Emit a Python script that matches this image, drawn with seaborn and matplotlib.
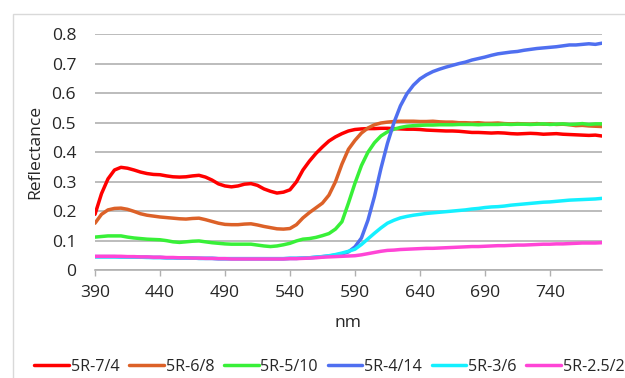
import pandas as pd
import matplotlib.pyplot as plt
import seaborn as sns
from matplotlib.patches import Rectangle


WAVELENGTHS = list(range(390, 785, 5))

SERIES_NAMES = ["5R-7/4", "5R-6/8", "5R-5/10", "5R-4/14", "5R-3/6", "5R-2.5/2"]
COLORS = ["#ff0000", "#dc6128", "#38f038", "#4f6ff0", "#14f0ff", "#ff45d6"]

R_7_4 = [
    0.190, 0.260, 0.310, 0.340, 0.349, 0.346, 0.340, 0.333, 0.328, 0.325,
    0.324, 0.320, 0.317, 0.316, 0.317, 0.320, 0.322, 0.316, 0.306, 0.293,
    0.286, 0.283, 0.286, 0.292, 0.294, 0.288, 0.276, 0.268, 0.262, 0.265,
    0.273, 0.300, 0.340, 0.370, 0.396, 0.418, 0.438, 0.452, 0.463, 0.472,
    0.477, 0.479, 0.480, 0.480, 0.481, 0.481, 0.480, 0.479, 0.478, 0.478,
    0.477, 0.475, 0.474, 0.473, 0.472, 0.472, 0.471, 0.469, 0.467, 0.467,
    0.466, 0.465, 0.466, 0.465, 0.463, 0.462, 0.463, 0.464, 0.463, 0.461,
    0.462, 0.463, 0.461, 0.460, 0.459, 0.458, 0.457, 0.458, 0.455,
]

R_6_8 = [
    0.160, 0.190, 0.205, 0.210, 0.211, 0.207, 0.200, 0.192, 0.187, 0.184,
    0.181, 0.179, 0.177, 0.175, 0.174, 0.176, 0.177, 0.172, 0.166, 0.160,
    0.156, 0.155, 0.155, 0.157, 0.158, 0.154, 0.149, 0.145, 0.141, 0.140,
    0.142, 0.155, 0.178, 0.196, 0.212, 0.228, 0.255, 0.300, 0.360, 0.410,
    0.440, 0.465, 0.482, 0.493, 0.499, 0.502, 0.504, 0.505, 0.505, 0.505,
    0.504, 0.504, 0.505, 0.503, 0.502, 0.502, 0.500, 0.500, 0.499, 0.500,
    0.498, 0.498, 0.499, 0.497, 0.496, 0.497, 0.496, 0.495, 0.497, 0.495,
    0.496, 0.494, 0.495, 0.493, 0.490, 0.491, 0.489, 0.488, 0.487,
]

R_5_10 = [
    0.113, 0.115, 0.117, 0.117, 0.117, 0.113, 0.110, 0.108, 0.106, 0.105,
    0.104, 0.101, 0.097, 0.095, 0.097, 0.099, 0.100, 0.097, 0.094, 0.092,
    0.090, 0.089, 0.089, 0.089, 0.089, 0.086, 0.083, 0.081, 0.083, 0.087,
    0.092, 0.100, 0.106, 0.108, 0.112, 0.118, 0.125, 0.140, 0.165, 0.228,
    0.295, 0.355, 0.400, 0.432, 0.455, 0.469, 0.478, 0.484, 0.488, 0.490,
    0.491, 0.492, 0.492, 0.493, 0.493, 0.493, 0.494, 0.494, 0.494, 0.493,
    0.494, 0.494, 0.494, 0.495, 0.494, 0.495, 0.495, 0.494, 0.495, 0.496,
    0.494, 0.495, 0.496, 0.494, 0.495, 0.497, 0.494, 0.496, 0.496,
]

R_4_14 = [
    0.047, 0.047, 0.047, 0.047, 0.046, 0.046, 0.045, 0.045, 0.045, 0.044,
    0.044, 0.043, 0.043, 0.042, 0.042, 0.042, 0.041, 0.041, 0.041, 0.040,
    0.040, 0.040, 0.040, 0.040, 0.040, 0.040, 0.040, 0.040, 0.040, 0.040,
    0.041, 0.041, 0.042, 0.043, 0.045, 0.047, 0.049, 0.052, 0.056, 0.063,
    0.080, 0.110, 0.170, 0.250, 0.345, 0.430, 0.500, 0.557, 0.598, 0.627,
    0.648, 0.662, 0.673, 0.681, 0.688, 0.694, 0.700, 0.705, 0.712, 0.717,
    0.722, 0.728, 0.733, 0.736, 0.739, 0.741, 0.745, 0.748, 0.751, 0.753,
    0.755, 0.757, 0.760, 0.763, 0.763, 0.765, 0.767, 0.765, 0.769,
]

R_3_6 = [
    0.046, 0.046, 0.046, 0.046, 0.046, 0.045, 0.045, 0.045, 0.044, 0.044,
    0.044, 0.043, 0.043, 0.042, 0.042, 0.042, 0.041, 0.041, 0.041, 0.040,
    0.040, 0.040, 0.040, 0.040, 0.040, 0.040, 0.040, 0.040, 0.040, 0.040,
    0.041, 0.041, 0.042, 0.043, 0.045, 0.047, 0.050, 0.054, 0.059, 0.065,
    0.072, 0.088, 0.107, 0.126, 0.144, 0.160, 0.170, 0.178, 0.183, 0.187,
    0.190, 0.193, 0.195, 0.197, 0.199, 0.201, 0.203, 0.205, 0.208, 0.210,
    0.213, 0.215, 0.216, 0.218, 0.221, 0.223, 0.225, 0.227, 0.229, 0.231,
    0.232, 0.234, 0.236, 0.238, 0.239, 0.240, 0.241, 0.242, 0.244,
]

R_2_5_2 = [
    0.048, 0.048, 0.048, 0.048, 0.048, 0.047, 0.047, 0.046, 0.046, 0.045,
    0.045, 0.044, 0.044, 0.043, 0.043, 0.042, 0.042, 0.041, 0.041, 0.040,
    0.040, 0.039, 0.039, 0.039, 0.039, 0.039, 0.039, 0.039, 0.039, 0.039,
    0.040, 0.040, 0.041, 0.042, 0.043, 0.045, 0.046, 0.047, 0.048, 0.049,
    0.050, 0.053, 0.057, 0.061, 0.065, 0.068, 0.069, 0.071, 0.072, 0.073,
    0.074, 0.075, 0.075, 0.076, 0.077, 0.078, 0.079, 0.080, 0.081, 0.081,
    0.082, 0.083, 0.084, 0.084, 0.085, 0.086, 0.086, 0.087, 0.088, 0.089,
    0.089, 0.090, 0.090, 0.091, 0.092, 0.093, 0.093, 0.093, 0.094,
]

X_TICKS = [390, 440, 490, 540, 590, 640, 690, 740]
Y_TICKS = [0, 0.1, 0.2, 0.3, 0.4, 0.5, 0.6, 0.7, 0.8]
Y_TICK_LABELS = ["0", "0.1", "0.2", "0.3", "0.4", "0.5", "0.6", "0.7", "0.8"]

GRID_GRAY = "#b0b0b0"


def build_frame():
    values = [R_7_4, R_6_8, R_5_10, R_4_14, R_3_6, R_2_5_2]
    parts = []
    for name, series in zip(SERIES_NAMES, values):
        parts.append(pd.DataFrame({
            "nm": WAVELENGTHS,
            "Reflectance": series,
            "sample": name
        }))
    return pd.concat(parts, ignore_index=True)


def main():
    df = build_frame()

    sns.set_theme(style="white")
    plt.rcParams["font.family"] = ["Open Sans", "DejaVu Sans"]
    plt.rcParams["text.color"] = "#262626"

    fig = plt.figure(figsize=(6.25, 3.78), dpi=100)
    ax = fig.add_axes([0.152, 0.2844, 0.811, 0.6256])

    sns.lineplot(
        data=df,
        x="nm",
        y="Reflectance",
        hue="sample",
        hue_order=SERIES_NAMES,
        palette=COLORS,
        linewidth=2.5,
        sort=False,
        ax=ax
    )

    ax.set_xlim(390, 780)
    ax.set_ylim(0, 0.8)
    ax.set_xticks(X_TICKS)
    ax.set_yticks(Y_TICKS)
    ax.set_yticklabels(Y_TICK_LABELS)

    ax.yaxis.grid(True, color=GRID_GRAY, linewidth=1.2)
    ax.xaxis.grid(False)
    ax.set_axisbelow(True)

    for side in ["left", "right", "top"]:
        ax.spines[side].set_visible(False)
    ax.spines["bottom"].set_color(GRID_GRAY)
    ax.spines["bottom"].set_linewidth(1.2)

    ax.tick_params(axis="y", length=0, pad=13.5, labelsize=12.6, labelcolor="#262626")
    ax.tick_params(axis="x", length=4.5, width=1.0, color=GRID_GRAY, pad=6,
                   labelsize=12.6, labelcolor="#262626", bottom=True)

    ax.set_xlabel("nm", fontsize=12.6)
    ax.set_ylabel("Reflectance", fontsize=12.6)
    ax.xaxis.set_label_coords(0.5, -0.19)
    ax.yaxis.set_label_coords(-0.103, 0.5)

    handles, labels = ax.get_legend_handles_labels()
    ax.get_legend().remove()
    fig.legend(
        handles, labels,
        loc="center",
        bbox_to_anchor=(0.527, 0.03),
        ncol=6,
        frameon=False,
        fontsize=11.6,
        handlelength=2.15,
        handletextpad=0.12,
        columnspacing=0.6,
        borderpad=0
    )

    fig.patches.append(Rectangle(
        (0.0208, -0.2), 1.2, 1.163,
        transform=fig.transFigure,
        fill=False,
        edgecolor="#d9d9d9",
        linewidth=1.0
    ))

    fig.savefig("out.png", dpi=100)
    plt.close(fig)


if __name__ == "__main__":
    main()
